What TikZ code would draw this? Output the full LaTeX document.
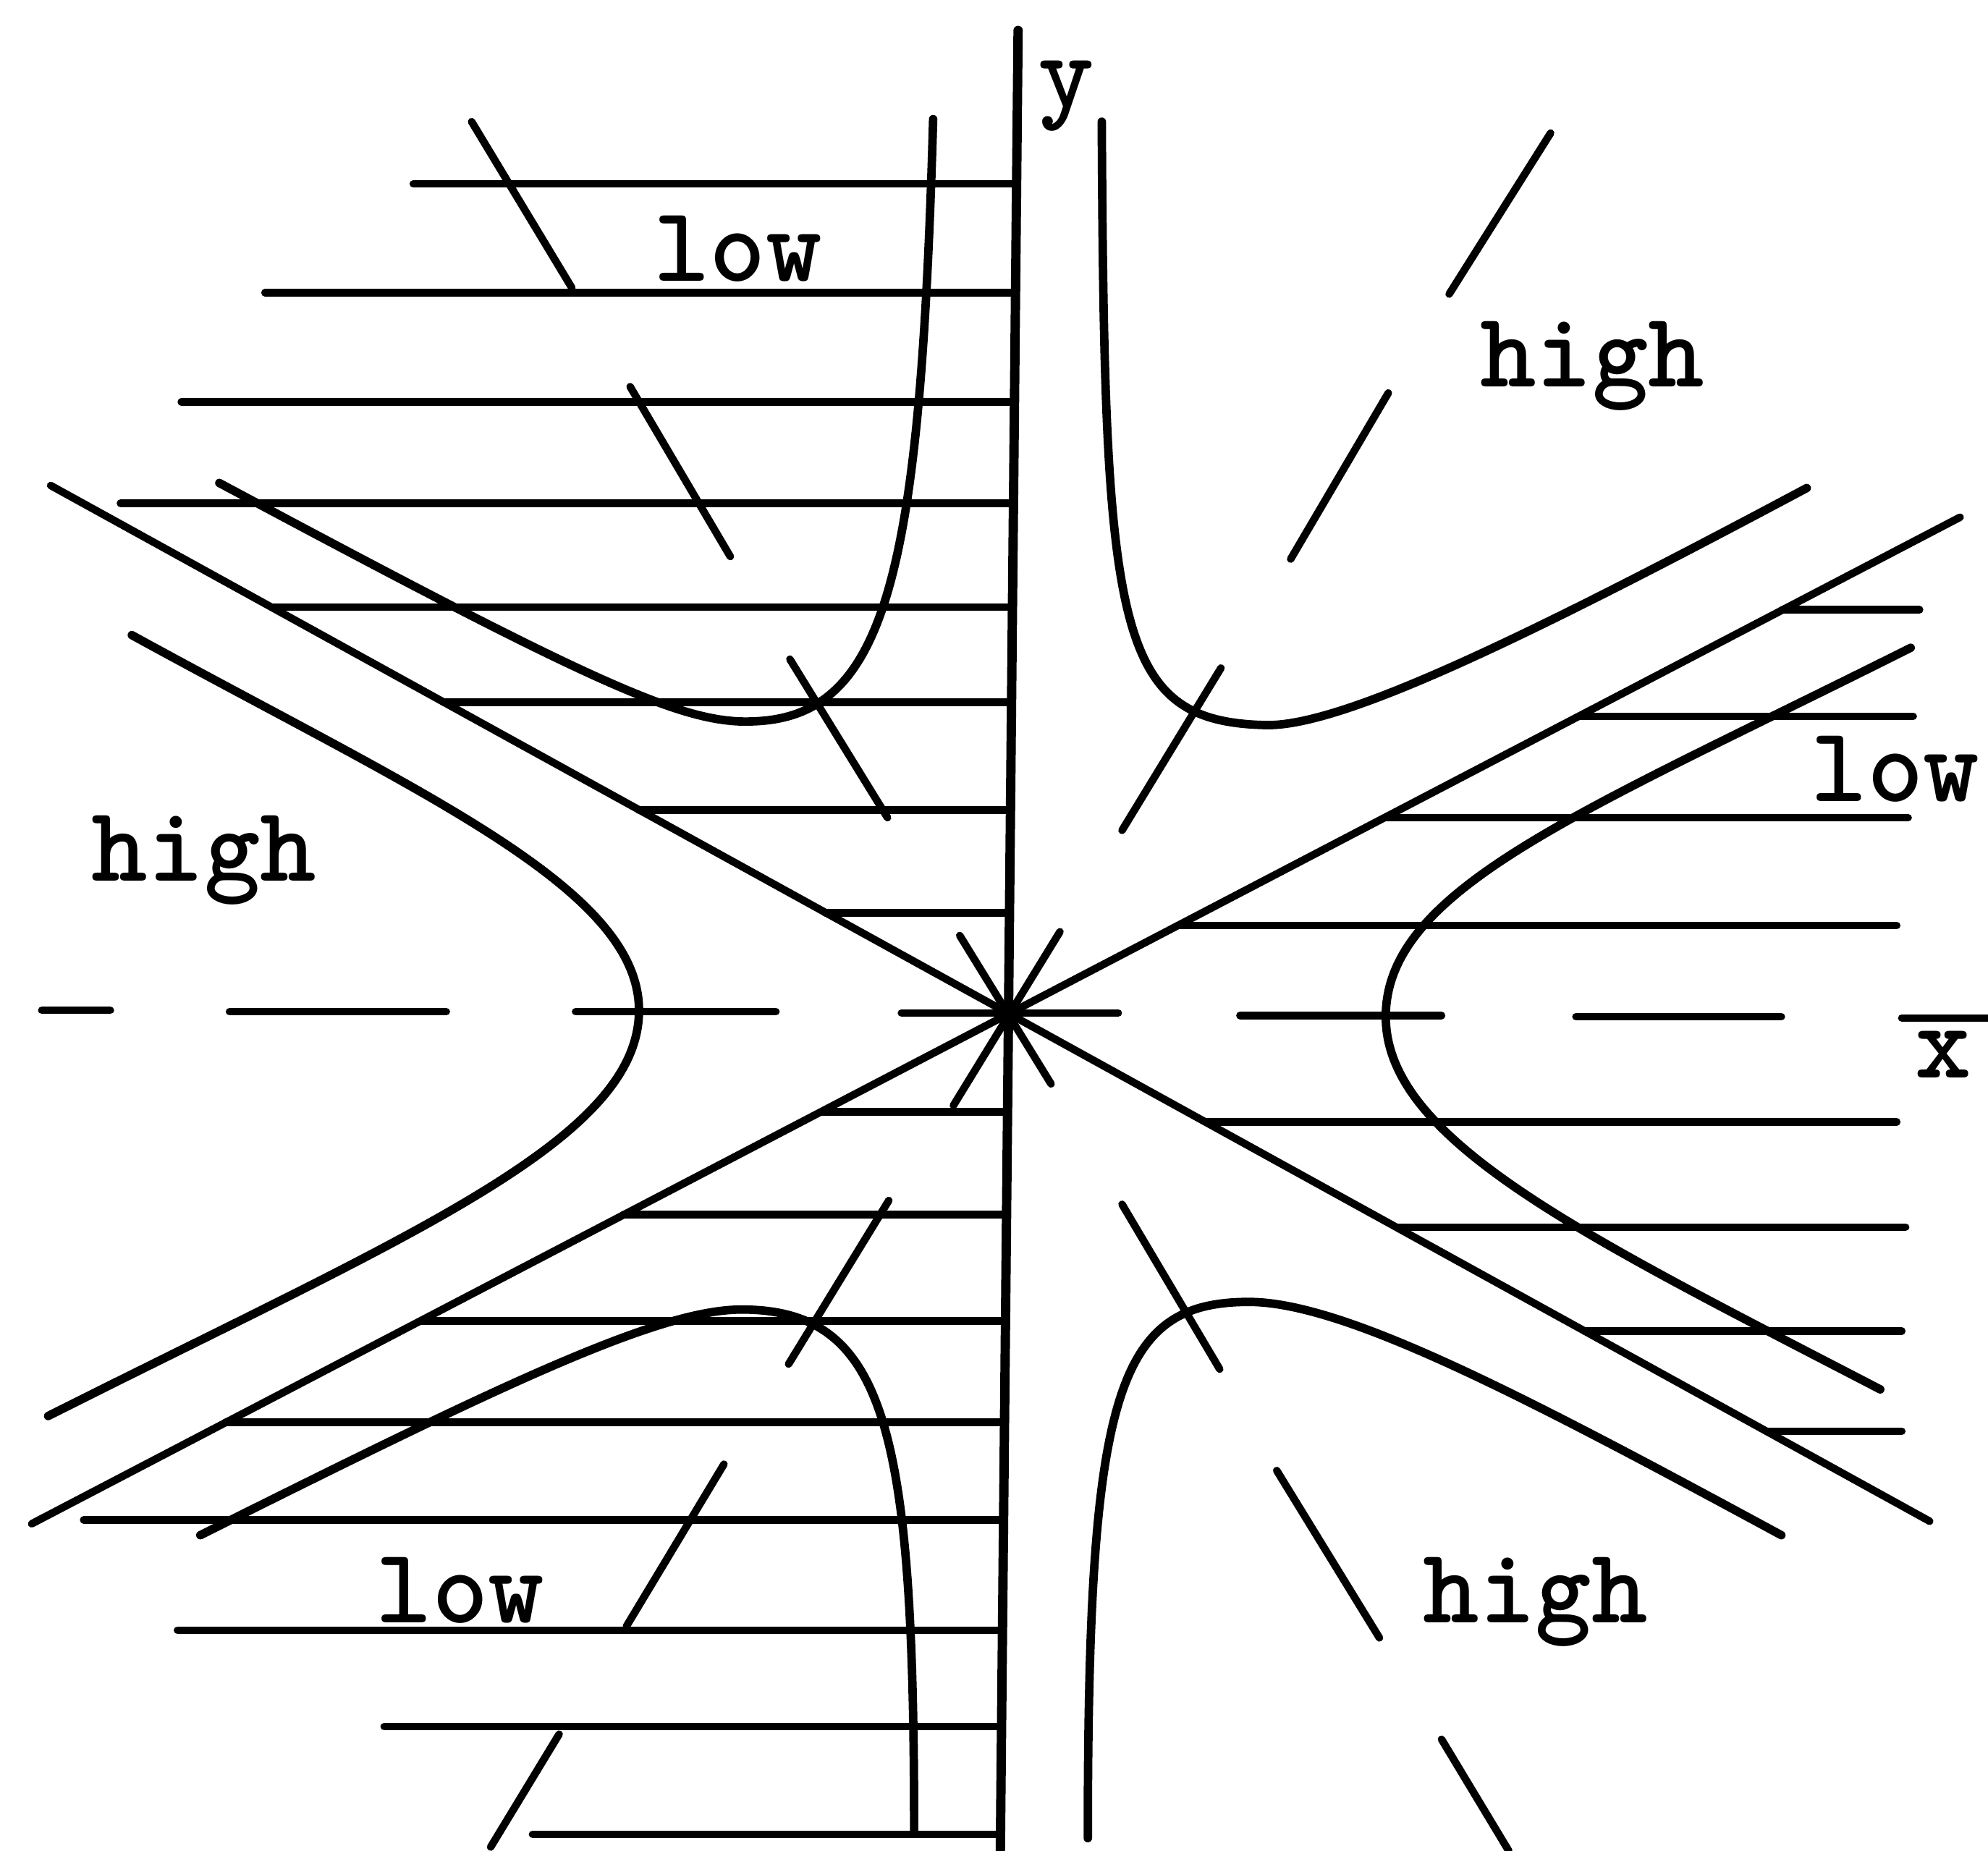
\documentclass[tikz,border=0pt]{standalone}
\begin{document}
\begin{tikzpicture}[x=0.1mm,y=-0.1mm,line cap=round,
  font=\ttfamily\bfseries\fontsize{24}{28}\selectfont,
  rule/.style={line width=1.7pt},
  level/.style={line width=1.9pt, line join=round},
  tag/.style={anchor=base, inner sep=0pt}]
\useasboundingbox (0,0) rectangle (1568,1460);
% y axis and the two zero lines
\draw[line width=2.1pt] (803,24) -- (789,1460);
\draw[rule] (40,383) -- (1522,1200);
\draw[rule] (25,1202) -- (1546,408);
% hatching of the low sectors
\foreach \y/\xa/\xb in {145/326/802,231/209/801,317/143/800,397/95/799,479/214/798,554/350/798,639/504/797,720/651/796,
    877/648/795,958/492/793,1042/332/792,1122/178/791,1199/66/790,1286/140/790,1362/303/789,1447/420/789,
    481/1406/1514,565/1245/1509,645/1092/1505,730/929/1496,885/951/1496,968/1101/1503,1050/1250/1500,1129/1393/1500}
  \draw[rule] (\xa,\y) -- (\xb,\y);
% dashed bisectors
\foreach \xa/\ya/\xb/\yb in {33/797/87/797,181/798/352/798,454/798/612/798,711/799/882/799,978/801/1137/801,1243/802/1405/802,1500/803/1568/803,
    372/96/451/227,497/305/576/439,623/520/700/645,757/738/829/855,
    1223/105/1143/232,1095/310/1018/441,963/527/885/655,836/735/752/872,
    701/947/622/1076,571/1155/494/1283,441/1368/387/1457,
    885/950/962/1080,1007/1160/1088/1292,1137/1372/1190/1460}
  \draw[rule] (\xa,\ya) -- (\xb,\yb);
% level curves
\draw[level] (736,94) .. controls (726,450) and (700,565) .. (595,569) .. controls (540,572) and (470,540) .. (173,381);
\draw[level] (869,96) .. controls (871,500) and (880,570) .. (1000,572) .. controls (1060,572) and (1200,505) .. (1425,385);
\draw[level] (104,501) .. controls (330,625) and (504,700) .. (504,797) .. controls (504,900) and (320,975) .. (38,1117);
\draw[level] (1507,511) .. controls (1250,640) and (1093,700) .. (1093,802) .. controls (1093,900) and (1250,975) .. (1483,1096);
\draw[level] (158,1211) .. controls (400,1090) and (520,1033) .. (585,1033) .. controls (700,1033) and (721,1130) .. (721,1446);
\draw[level] (858,1450) .. controls (858,1100) and (880,1027) .. (985,1027) .. controls (1060,1027) and (1200,1100) .. (1405,1211);
% labels
\node[tag] (lowUL) at (582,222) {low};
\node[tag] (highUR) at (1256,305) {high};
\node[tag] (lowR) at (1495,632) {low};
\node[tag] (highL) at (161,695) {high};
\node[tag] (lowLL) at (363,1280) {low};
\node[tag] (highLR) at (1211,1280) {high};
\node[tag] (ylab) at (841,85) {y};
\node[tag] (xlab) at (1533,850) {x};
\end{tikzpicture}
\end{document}
